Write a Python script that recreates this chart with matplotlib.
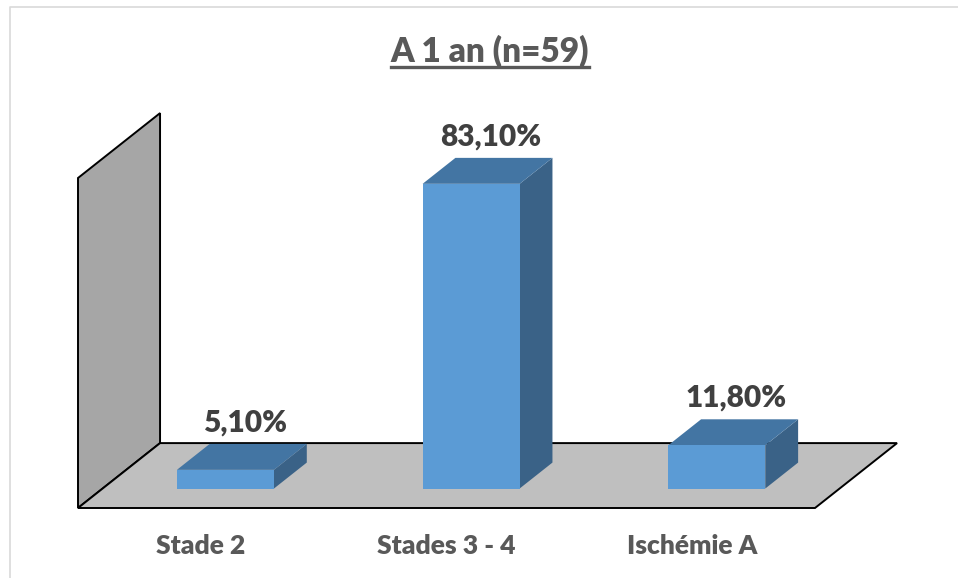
import matplotlib.pyplot as plt
from matplotlib.patches import Polygon
from matplotlib.lines import Line2D

categories = ["Stade 2", "Stades 3 - 4", "Ischémie A"]
values = [5.10, 83.10, 11.80]
labels = ["5,10%", "83,10%", "11,80%"]
title = "A 1 an (n=59)"

W, H = 958, 578
ymax = 90

# 3D look: floor depth in data units, bar placed inside it
DX, DY = 0.334, 17.7
f0, fd = 0.30, 0.40
bw = 0.395

front_c = "#5b9bd5"
top_c = "#4375a3"
side_c = "#3a6287"

plt.rcParams['font.family'] = ['Lato', 'DejaVu Sans']

fig = plt.figure(figsize=(W / 100, H / 100), dpi=100)
ax = fig.add_axes([78 / W, 70 / H, 737 / W, 330 / H])
ax.set_xlim(-0.5, len(categories) - 0.5)
ax.set_ylim(0, ymax)
ax.axis("off")

x0, x1 = -0.5, len(categories) - 0.5
wall = Polygon([(x0, 0), (x0 + DX, DY), (x0 + DX, ymax + DY), (x0, ymax)],
               closed=True, facecolor="#a6a6a6", edgecolor="black", lw=1.4,
               clip_on=False, zorder=1)
floor = Polygon([(x0, 0), (x1, 0), (x1 + DX, DY), (x0 + DX, DY)],
                closed=True, facecolor="#bfbfbf", edgecolor="black", lw=1.4,
                clip_on=False, zorder=1)
ax.add_patch(wall)
ax.add_patch(floor)

xs = list(range(len(categories)))
bx = [x + f0 * DX for x in xs]
base = f0 * DY
ddx, ddy = fd * DX, fd * DY

for x, v, lab in zip(bx, values, labels):
    l, r = x - bw / 2, x + bw / 2
    t = base + v
    side = Polygon([(r, base), (r + ddx, base + ddy), (r + ddx, t + ddy), (r, t)],
                   closed=True, facecolor=side_c, edgecolor="none", clip_on=False, zorder=2)
    top = Polygon([(l, t), (r, t), (r + ddx, t + ddy), (l + ddx, t + ddy)],
                  closed=True, facecolor=top_c, edgecolor="none", clip_on=False, zorder=2)
    ax.add_patch(side)
    ax.add_patch(top)
    ax.text(x + ddx * 0.6, t + ddy + 2.0, lab, ha="center", va="bottom",
            fontsize=21.5, fontweight="heavy", color="#404040", zorder=4)

ax.bar(bx, values, width=bw, bottom=base, color=front_c, zorder=3, clip_on=False)

for x, c in zip(xs, categories):
    ax.text(x, -10.5, c, ha="center", va="center", fontsize=19,
            fontweight="heavy", color="#595959")

tt = fig.text(490 / W, 1 - 51 / H, title, ha="center", va="center",
              fontsize=24, fontweight="heavy", color="#595959")

# underline the title
fig.canvas.draw()
bb = tt.get_window_extent()
uy = bb.y0
fig.add_artist(Line2D([bb.x0 / W, bb.x1 / W], [uy / H, uy / H],
                      transform=fig.transFigure, color="#595959", lw=2.4))

# light outer border
fig.add_artist(Line2D([10 / W, 10 / W, W / W], [0, 1 - 7 / H, 1 - 7 / H],
                      transform=fig.transFigure, color="#d9d9d9", lw=1.2))

fig.savefig("out.png", dpi=100, facecolor="white")
